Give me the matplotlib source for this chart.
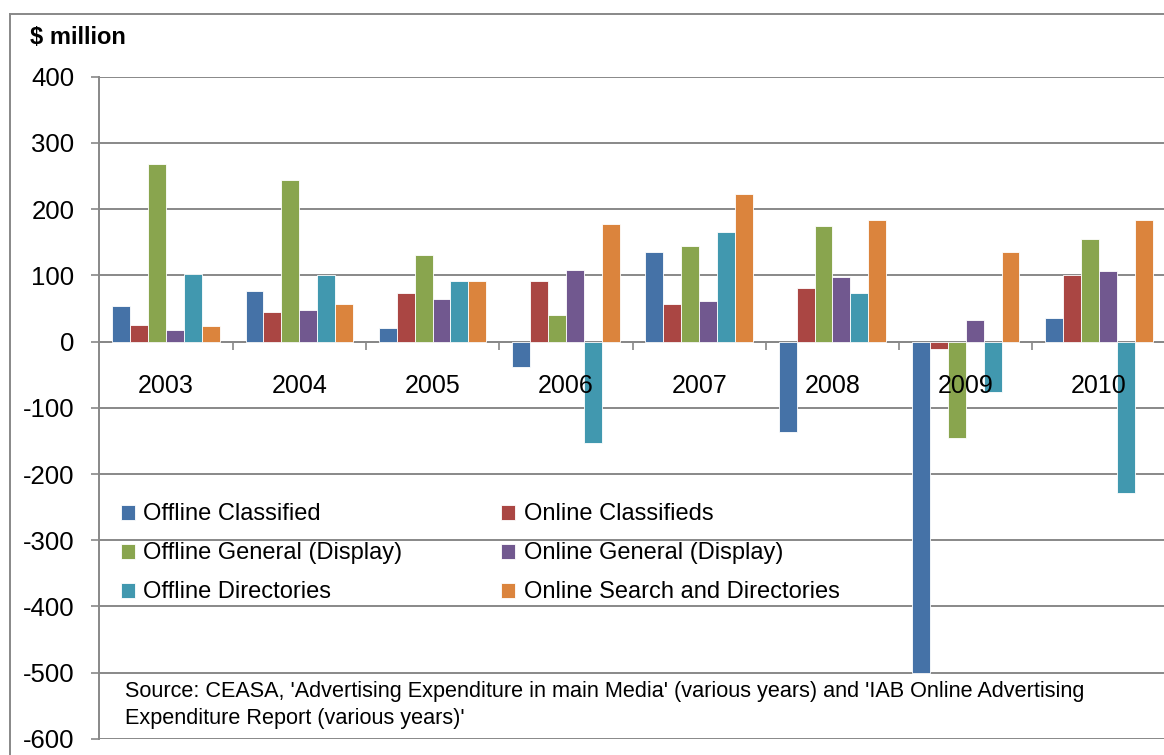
import matplotlib
matplotlib.use("Agg")
import matplotlib.pyplot as plt
from matplotlib.lines import Line2D
import numpy as np

# values in $ million
years = ['2003', '2004', '2005', '2006', '2007', '2008', '2009', '2010']
offline_classified = [54, 77, 20, -38, 135, -136, -500, 36]
online_classifieds = [25, 44, 73, 92, 56, 81, -11, 101]
offline_general = [268, 244, 131, 40, 145, 175, -145, 155]
online_general = [17, 47, 64, 108, 62, 97, 32, 106]
offline_directories = [102, 100, 91, -153, 165, 73, -76, -229]
online_search = [23, 57, 92, 178, 223, 183, 136, 183]

series = [
    ('Offline Classified', offline_classified, '#4572A7'),
    ('Online Classifieds', online_classifieds, '#AA4643'),
    ('Offline General (Display)', offline_general, '#89A54E'),
    ('Online General (Display)', online_general, '#71588F'),
    ('Offline Directories', offline_directories, '#4198AF'),
    ('Online Search and Directories', online_search, '#DB843D'),
]

plt.rcParams['font.family'] = ['Liberation Sans', 'DejaVu Sans']
plt.rcParams['axes.unicode_minus'] = False
grey = '#888888'

W, H = 1164, 755
fig = plt.figure(figsize=(W / 100, H / 100), dpi=100)
ax = fig.add_axes([99.3 / W, 1 - 738.9 / H, 1066.4 / W, 662.2 / H])

x = np.arange(len(years))
w = 0.806 / len(series)
handles = []
for j, (name, vals, col) in enumerate(series):
    b = ax.bar(x + (j - 2.5) * w, vals, w, color=col, edgecolor='white',
               linewidth=0.6, label=name, zorder=3)
    handles.append(b)

ax.set_xlim(-0.5, len(years) - 0.5)
ax.set_ylim(-600, 400)
ax.set_yticks(range(-600, 401, 100))
ax.yaxis.grid(True, color=grey, linewidth=1.4, zorder=0)
ax.tick_params(axis='y', length=6, width=1.2, color=grey, labelsize=18.5, pad=12)

for s in ['top', 'right']:
    ax.spines[s].set_visible(False)
ax.spines['left'].set_color(grey)
ax.spines['left'].set_linewidth(1.4)
ax.spines['bottom'].set_position(('data', 0))
ax.spines['bottom'].set_color(grey)
ax.spines['bottom'].set_linewidth(1.4)

ax.set_xticks(x)
ax.set_xticklabels(years)
ax.set_xticks(np.arange(0.5, len(years) - 0.5, 1), minor=True)
ax.tick_params(axis='x', which='major', length=0, labelsize=18, pad=23)
ax.tick_params(axis='x', which='minor', length=6, width=1.2, color=grey)
# year labels sit on top of the negative bars, as in the original
ax.xaxis.set_zorder(4)

order = [0, 2, 4, 1, 3, 5]
ax.legend([handles[i] for i in order], [series[i][0] for i in order], ncol=2,
          loc='upper left', bbox_to_anchor=(0.0115, 0.370), frameon=False,
          fontsize=17, handlelength=0.6, handleheight=0.6, handletextpad=0.35,
          columnspacing=4.18, labelspacing=0.72, borderaxespad=0)

fig.text(30 / W, 1 - 37 / H, '$ million', fontsize=17, fontweight='bold',
         va='center', ha='left')
fig.text(125 / W, 1 - 705 / H,
         "Source: CEASA, 'Advertising Expenditure in main Media' (various years) and 'IAB Online Advertising\n"
         "Expenditure Report (various years)'",
         fontsize=15.6, va='center', ha='left', linespacing=1.4)

# outer chart border
fig.add_artist(Line2D([9.5 / W, 9.5 / W], [0, 1 - 14 / H], color=grey, linewidth=1.4))
fig.add_artist(Line2D([9.5 / W, 1], [1 - 14 / H, 1 - 14 / H], color=grey, linewidth=1.4))

fig.savefig('out.png', dpi=100)
